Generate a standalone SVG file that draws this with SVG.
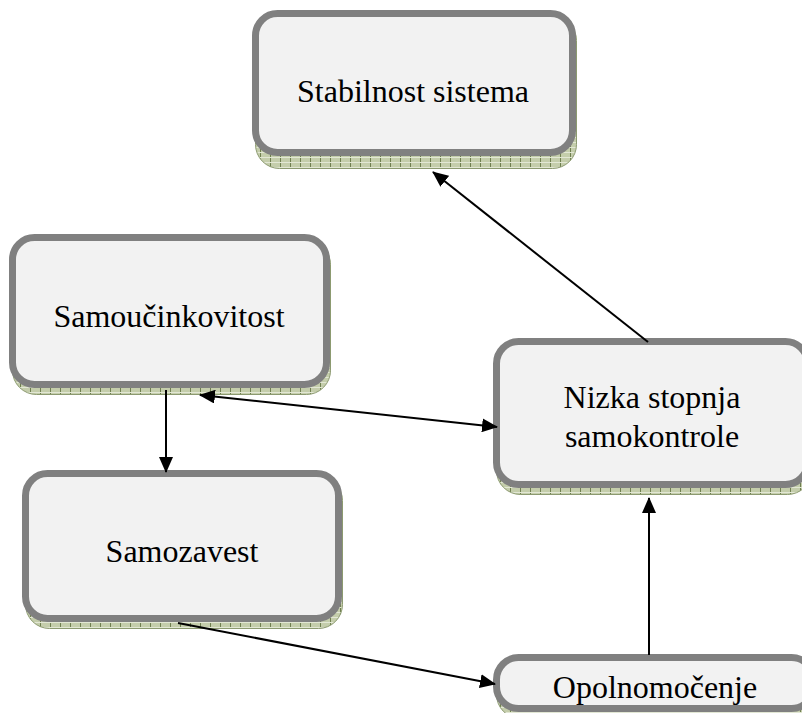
<svg xmlns="http://www.w3.org/2000/svg" width="802" height="713" viewBox="0 0 802 713">
<style>
.box{fill:#f2f2f2;stroke:#808080;stroke-width:7}
.sh{fill:url(#hatch);stroke:#8c9a70;stroke-width:1}
.lbl{font-family:'Liberation Serif','DejaVu Serif',serif;font-size:32px;fill:#000;text-anchor:middle}
.con{stroke:#000;stroke-width:2;fill:none}
</style>
<defs>
<pattern id="hatch" width="10" height="5" patternUnits="userSpaceOnUse">
<rect width="10" height="5" fill="#c4cdab"/>
<line x1="0.5" y1="0" x2="0.5" y2="5" stroke="#6f7f4f" stroke-width="1"/>
<line x1="0" y1="2.5" x2="10" y2="2.5" stroke="#e2e7d4" stroke-width="1"/>
</pattern>
<marker id="ah" viewBox="0 0 16 14" refX="15" refY="7" markerWidth="16" markerHeight="14" markerUnits="userSpaceOnUse" orient="auto-start-reverse">
<path d="M0,0 L16,7 L0,14 z" fill="#000"/>
</marker>
</defs>
<g id="node-stabilnost">
<rect class="sh" x="255.5" y="16.5" width="321" height="152" rx="24"/>
<rect class="box" x="255.5" y="13.5" width="317" height="139" rx="22"/>
<text class="lbl" font-family="Liberation Serif, DejaVu Serif, serif" x="413" y="102">Stabilnost sistema</text>
</g>
<g id="node-samoucinkovitost">
<rect class="sh" x="12.5" y="240.5" width="318" height="154" rx="24"/>
<rect class="box" x="12.5" y="237.5" width="314" height="147" rx="22"/>
<text class="lbl" font-family="Liberation Serif, DejaVu Serif, serif" x="169" y="327">Samoučinkovitost</text>
</g>
<g id="node-samozavest">
<rect class="sh" x="25.5" y="476.5" width="317" height="152" rx="24"/>
<rect class="box" x="25.5" y="473.5" width="313" height="145" rx="22"/>
<text class="lbl" font-family="Liberation Serif, DejaVu Serif, serif" x="182" y="562">Samozavest</text>
</g>
<g id="node-nizka">
<rect class="sh" x="496.5" y="344.5" width="315" height="150" rx="24"/>
<rect class="box" x="496.5" y="341.5" width="311" height="143" rx="22"/>
<text class="lbl" font-family="Liberation Serif, DejaVu Serif, serif" x="652" y="408">Nizka stopnja</text>
<text class="lbl" font-family="Liberation Serif, DejaVu Serif, serif" x="652" y="447">samokontrole</text>
</g>
<g id="node-opolnomocenje">
<rect class="sh" x="496.5" y="660.5" width="321" height="58" rx="24"/>
<rect class="box" x="496.5" y="657.5" width="317" height="51" rx="22"/>
<text class="lbl" font-family="Liberation Serif, DejaVu Serif, serif" x="655" y="698">Opolnomočenje</text>
</g>
<g id="connectors">
<line class="con" x1="648" y1="342" x2="433" y2="172" marker-end="url(#ah)"/>
<line class="con" x1="200" y1="395" x2="497" y2="427" marker-start="url(#ah)" marker-end="url(#ah)"/>
<line class="con" x1="166" y1="390" x2="166" y2="472" marker-end="url(#ah)"/>
<line class="con" x1="649" y1="655" x2="649" y2="498" marker-end="url(#ah)"/>
<line class="con" x1="178" y1="623" x2="495" y2="684" marker-end="url(#ah)"/>
</g>
</svg>
